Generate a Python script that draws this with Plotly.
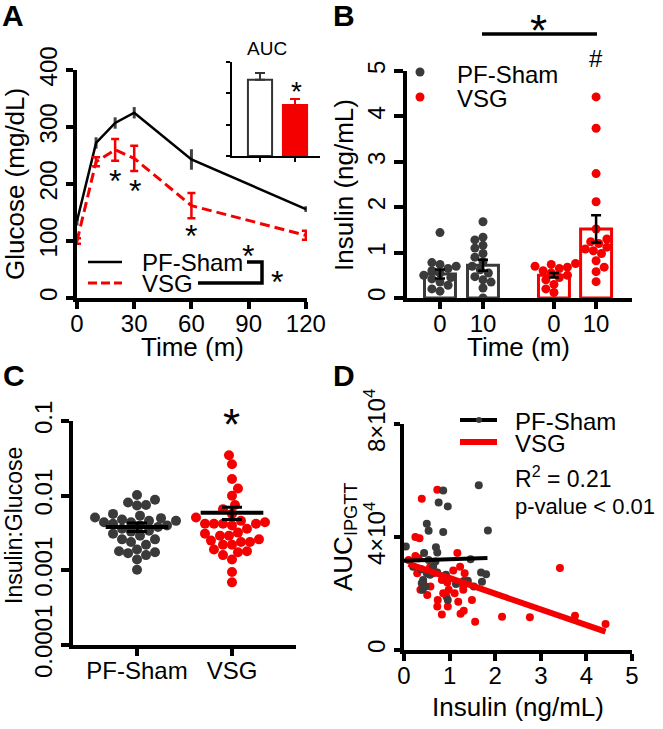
import numpy as np
import plotly.graph_objects as go

W, H = 663, 729
FONT = "Liberation Sans, Arial, sans-serif"
RED = "#f50000"
GRAY = "#3a3a3a"
DGRAY = "#444444"


def fx(p):
    return p / W


def fy(p):
    return 1 - p / H


# ---------------- DATA ----------------
# Panel A: IPGTT
time_min = [0, 10, 20, 30, 60, 120]
sham_glucose = [135, 272, 307, 325, 243, 156]
sham_glucose_sem = [8, 10, 10, 10, 18, 5]
vsg_glucose = [100, 239, 260, 245, 162, 110]
vsg_glucose_sem = [5, 8, 19, 22, 22, 8]
auc_groups = ["PF-Sham", "VSG"]
auc_values = [2.43, 1.63]
auc_sem = [0.22, 0.19]

# Panel B: insulin at 0 and 10 min
b_tick_labels = ["0", "10", "0", "10"]
b_bar_means = [0.53, 0.72, 0.50, 1.52]
b_bar_sem = [0.10, 0.12, 0.05, 0.30]
ins_sham_0 = [1.44, 0.78, 0.74, 0.70, 0.65, 0.60, 0.55, 0.50, 0.45, 0.42, 0.35, 0.28, 0.20, 0.15]
ins_sham_10 = [1.68, 1.34, 1.28, 1.16, 1.10, 0.98, 0.90, 0.80, 0.70, 0.62, 0.55, 0.47, 0.40, 0.35, 0.22, 0.0]
ins_vsg_0 = [0.76, 0.74, 0.70, 0.68, 0.65, 0.60, 0.55, 0.50, 0.45, 0.40, 0.30, 0.20, 0.12]
ins_vsg_10 = [4.43, 3.74, 2.74, 2.12, 1.52, 1.30, 1.24, 1.20, 1.12, 1.08, 1.04, 0.98, 0.82, 0.68, 0.58, 0.36]

# Panel C: insulin:glucose ratio
c_groups = ["PF-Sham", "VSG"]
ratio_sham = [0.0102, 0.0088, 0.0081, 0.0075, 0.0074, 0.0057, 0.0054, 0.0051, 0.0050, 0.0048,
              0.0046, 0.0046, 0.0044, 0.0044, 0.0042, 0.0040, 0.0040, 0.0038, 0.0036, 0.0034,
              0.0033, 0.0031, 0.0029, 0.0026, 0.0026, 0.0024, 0.0022, 0.0019, 0.0018, 0.00175,
              0.0017, 0.0016, 0.0014, 0.00102]
ratio_vsg = [0.0348, 0.0264, 0.0167, 0.0125, 0.0100, 0.0075, 0.0066, 0.0057, 0.0051, 0.0046,
             0.0044, 0.0042, 0.0042, 0.0042, 0.0042, 0.0040, 0.0036, 0.0032, 0.0031, 0.0029,
             0.0029, 0.0026, 0.0025, 0.0024, 0.0024, 0.0022, 0.0022, 0.0019, 0.0018, 0.00175,
             0.0016, 0.0014, 0.00095, 0.00069]
ratio_means = [0.0038, 0.0059]
ratio_upper = [0.0043, 0.0070]
ratio_lower = [0.0033, 0.0048]

# Panel D: AUC vs insulin
d_sham_x = [1.64, 0.86, 0.76, 0.96, 0.50, 0.54, 0.86, 1.84, 0.04, 0.70, 0.44, 0.73, 0.20, 0.38,
            0.54, 0.69, 1.46, 0.50, 0.57, 0.73, 0.92, 0.42, 0.39, 0.47, 1.14, 1.31, 1.40, 1.71,
            1.80, 1.69, 1.53, 0.96, 0.41, 0.64]
d_sham_y = [5.83, 5.65, 5.22, 5.08, 4.47, 4.22, 4.18, 4.23, 3.66, 3.64, 3.43, 3.45, 2.95, 2.86,
            3.19, 3.13, 3.21, 2.72, 2.66, 2.74, 2.66, 2.48, 2.36, 2.25, 2.34, 2.44, 2.45, 2.42,
            2.68, 2.74, 2.25, 1.77, 2.13, 2.95]
d_vsg_x = [0.39, 0.73, 0.25, 0.34, 0.25, 0.10, 0.32, 1.17, 3.42, 0.57, 0.64, 1.08, 1.23, 1.33,
           0.29, 0.36, 0.51, 0.58, 0.83, 0.95, 0.98, 1.11, 1.30, 1.49, 0.74, 0.73, 0.83, 0.96,
           1.24, 1.31, 1.56, 2.15, 2.76, 3.75, 4.42, 1.30, 0.93, 1.19, 0.42, 0.86]
d_vsg_y = [5.35, 5.67, 4.00, 3.96, 3.33, 3.19, 3.25, 3.43, 2.90, 2.93, 2.72, 2.81, 2.95, 2.72,
           2.72, 2.13, 1.95, 2.25, 2.48, 2.39, 2.13, 2.01, 2.13, 1.77, 1.77, 1.54, 1.26, 1.54,
           1.28, 1.39, 1.00, 1.18, 1.16, 1.21, 0.92, 2.25, 1.89, 1.71, 2.42, 2.01]
d_sham_fit_x = [0.0, 1.83]
d_sham_fit_y = [3.16, 3.26]
d_vsg_fit_x = [0.10, 4.42]
d_vsg_fit_y = [3.05, 0.65]
d_yticks = [0, 4, 8]
d_yticklabels = ["0", "4×10<sup>4</sup>", "8×10<sup>4</sup>"]


def beeswarm(values, y_scale, x_scale, diam, log=False):
    v = np.log10(np.asarray(values, float)) if log else np.asarray(values, float)
    ypx = v * y_scale
    order = np.argsort(ypx)
    placed = []
    offs = np.zeros(len(v))
    step = diam * 0.3
    flip = 1
    for i in order:
        k = 0
        found = None
        while found is None:
            cands = [0.0] if k == 0 else [flip * k * step, -flip * k * step]
            for c in cands:
                if all((c - a) ** 2 + (ypx[i] - b) ** 2 >= (diam * 0.9) ** 2 for a, b in placed):
                    found = c
                    break
            k += 1
        flip = -flip
        placed.append((found, ypx[i]))
        offs[i] = found / x_scale
    return offs


fig = go.Figure()

# ---------------- Panel A ----------------
fig.add_trace(go.Scatter(
    x=time_min, y=sham_glucose, mode="lines", line=dict(color="black", width=2.5),
    error_y=dict(type="data", array=sham_glucose_sem, color=DGRAY, thickness=3, width=0),
    xaxis="x", yaxis="y", showlegend=False))
fig.add_trace(go.Scatter(
    x=time_min, y=vsg_glucose, mode="lines", line=dict(color=RED, width=3, dash="10px,5px"),
    error_y=dict(type="data", array=vsg_glucose_sem, color=RED, thickness=2.5, width=4),
    xaxis="x", yaxis="y", showlegend=False))

# inset AUC
fig.add_trace(go.Bar(
    x=[1], y=[auc_values[0]], width=0.69, marker=dict(color="white", line=dict(color="#333333", width=2)),
    error_y=dict(type="data", array=[auc_sem[0]], arrayminus=[0], symmetric=False, color="#333333",
                 thickness=2, width=5),
    xaxis="x2", yaxis="y2", showlegend=False))
fig.add_trace(go.Bar(
    x=[2], y=[auc_values[1]], width=0.69, marker=dict(color=RED, line=dict(color=RED, width=2)),
    error_y=dict(type="data", array=[auc_sem[1]], arrayminus=[0], symmetric=False, color=RED,
                 thickness=2, width=5),
    xaxis="x2", yaxis="y2", showlegend=False))

# ---------------- Panel B ----------------
b_pos = [1, 2, 3.65, 4.63]
b_groups = [ins_sham_0, ins_sham_10, ins_vsg_0, ins_vsg_10]
b_colors = [GRAY, GRAY, RED, RED]
fig.add_trace(go.Bar(
    x=b_pos, y=b_bar_means, width=0.72,
    marker=dict(color="white", line=dict(color=b_colors, width=3)),
    xaxis="x3", yaxis="y3", showlegend=False))
for pos, vals, col in zip(b_pos, b_groups, b_colors):
    offs = beeswarm(vals, 45.4, 43.0, 9)
    fig.add_trace(go.Scatter(
        x=pos + offs, y=vals, mode="markers", marker=dict(color=col, size=9),
        xaxis="x3", yaxis="y3", showlegend=False))
fig.add_trace(go.Scatter(
    x=b_pos, y=b_bar_means, mode="markers", marker=dict(size=0.1, color="rgba(0,0,0,0)"),
    error_y=dict(type="data", array=b_bar_sem, color="black", thickness=2.5, width=5),
    xaxis="x3", yaxis="y3", showlegend=False))

# ---------------- Panel C ----------------
c_pos = [1, 2]
for pos, vals, col in zip(c_pos, [ratio_sham, ratio_vsg], [GRAY, RED]):
    offs = beeswarm(vals, 74.7, 95.0, 10, log=True)
    fig.add_trace(go.Scatter(
        x=pos + offs, y=vals, mode="markers", marker=dict(color=col, size=10),
        xaxis="x4", yaxis="y4", showlegend=False))
for pos, m in zip(c_pos, ratio_means):
    fig.add_trace(go.Scatter(
        x=[pos - 0.33, pos + 0.33], y=[m, m], mode="lines", line=dict(color="black", width=4),
        xaxis="x4", yaxis="y4", showlegend=False))
fig.add_trace(go.Scatter(
    x=c_pos, y=ratio_means, mode="markers", marker=dict(size=0.1, color="rgba(0,0,0,0)"),
    error_y=dict(type="data", symmetric=False,
                 array=[u - m for u, m in zip(ratio_upper, ratio_means)],
                 arrayminus=[m - l for m, l in zip(ratio_means, ratio_lower)],
                 color="black", thickness=3, width=10),
    xaxis="x4", yaxis="y4", showlegend=False))

# ---------------- Panel D ----------------
fig.add_trace(go.Scatter(
    x=d_vsg_x, y=[v * 1e4 for v in d_vsg_y], mode="markers", marker=dict(color=RED, size=8),
    xaxis="x5", yaxis="y5", showlegend=False))
fig.add_trace(go.Scatter(
    x=d_sham_x, y=[v * 1e4 for v in d_sham_y], mode="markers", marker=dict(color=GRAY, size=8),
    xaxis="x5", yaxis="y5", showlegend=False))
fig.add_trace(go.Scatter(
    x=d_vsg_fit_x, y=[v * 1e4 for v in d_vsg_fit_y], mode="lines", line=dict(color=RED, width=6),
    xaxis="x5", yaxis="y5", showlegend=False))
fig.add_trace(go.Scatter(
    x=d_sham_fit_x, y=[v * 1e4 for v in d_sham_fit_y], mode="lines", line=dict(color="black", width=4),
    xaxis="x5", yaxis="y5", showlegend=False))

# ---------------- Axes ----------------
TICKFONT = dict(family=FONT, size=24, color="black")


def ax(**kw):
    d = dict(showline=True, linecolor="black", linewidth=3.5, ticks="outside", ticklen=7,
             tickwidth=3.5, tickcolor="black", showgrid=False, zeroline=False, automargin=False,
             tickfont=TICKFONT, fixedrange=True)
    d.update(kw)
    return d


XSO = -6  # pull x tick labels toward axis

layout = dict(
    template="none",
    width=W, height=H, margin=dict(l=0, r=0, t=0, b=0, pad=0, autoexpand=False),
    paper_bgcolor="white", plot_bgcolor="rgba(0,0,0,0)", showlegend=False,
    barmode="overlay", font=dict(family=FONT, color="black"),
    xaxis=ax(domain=[fx(77), fx(307)], range=[0, 120.6], tickvals=[0, 30, 60, 90, 120], anchor="y",
             ticklabelstandoff=XSO),
    yaxis=ax(domain=[fy(298), fy(70)], range=[0, 400], tickvals=[0, 100, 200, 300, 400],
             tickangle=-90, anchor="x"),
    xaxis2=ax(domain=[fx(232), fx(320)], range=[0.2, 2.714], tickvals=[1, 2], showticklabels=False,
              ticklen=4, linewidth=2, tickwidth=2, anchor="y2"),
    yaxis2=ax(domain=[fy(156), fy(62)], range=[0, 3], tickvals=[0, 1, 2, 3], showticklabels=False,
              ticklen=4, linewidth=2, tickwidth=2, anchor="x2"),
    xaxis3=ax(domain=[fx(407), fx(632)], range=[0.233, 5.465], tickvals=b_pos, ticktext=b_tick_labels,
              anchor="y3", ticklabelstandoff=XSO),
    yaxis3=ax(domain=[fy(298), fy(71)], range=[0, 5], tickvals=[0, 1, 2, 3, 4, 5], tickangle=-90,
              ticklen=9, anchor="x3"),
    xaxis4=ax(domain=[fx(73), fx(296)], range=[0.326, 2.674], tickvals=c_pos, ticktext=c_groups,
              anchor="y4", ticklabelstandoff=XSO),
    yaxis4=ax(domain=[fy(645), fy(421)], type="log", range=[-4, -1],
              tickvals=[0.0001, 0.001, 0.01, 0.1], ticktext=["0.0001", "0.001", "0.01", "0.1"],
              tickangle=-90, ticklen=8, anchor="x4"),
    xaxis5=ax(domain=[fx(404), fx(632)], range=[0, 5], tickvals=[0, 1, 2, 3, 4, 5], anchor="y5",
              ticklabelstandoff=XSO),
    yaxis5=ax(domain=[fy(650), fy(424)], range=[0, 8e4], tickvals=[v * 1e4 for v in d_yticks],
              ticktext=d_yticklabels, tickangle=-90, ticklen=6, anchor="x5"),
)

ann = []
shapes = []


def text(x, y, s, size=23, xanchor="center", angle=0, bold=False):
    ann.append(dict(x=fx(x), y=fy(y), xref="paper", yref="paper", text=("<b>%s</b>" % s) if bold else s,
                    showarrow=False, xanchor=xanchor, yanchor="middle", textangle=angle,
                    font=dict(family=FONT, size=size, color="black")))


def star(x, y, size):
    text(x, y + 0.27 * size, "*", size=size)


def line(x0, y0, x1, y1, color="black", width=3.5, dash=None):
    shapes.append(dict(type="line", xref="paper", yref="paper", x0=fx(x0), y0=fy(y0), x1=fx(x1),
                       y1=fy(y1), line=dict(color=color, width=width, dash=dash)))


# panel letters
text(13, 15, "A", 30, bold=True)
text(344, 15, "B", 30, bold=True)
text(14, 376, "C", 30, bold=True)
text(344, 376, "D", 30, bold=True)

# Panel A texts
text(15, 184, "Glucose (mg/dL)", 26, angle=-90)
text(192, 347, "Time (m)", 26)
text(267, 48, "AUC", 19)
star(296, 84, 28)
star(115, 172, 32)
star(135, 182, 32)
star(191, 227, 32)
line(88, 262, 122, 262, "black", 2.5)
line(88, 283, 122, 283, RED, 3, "9px,4px")
text(140, 262, "PF-Sham", 24, xanchor="left")
text(140, 284, "VSG", 24, xanchor="left")
shapes.append(dict(type="path", xref="paper", yref="paper",
                   path="M %f %f L %f %f L %f %f L %f %f" % (fx(247), fy(262), fx(262), fy(262),
                                                            fx(262), fy(283), fx(198), fy(283)),
                   line=dict(color="black", width=3.5)))
star(248, 247, 32)
star(277, 273, 32)

# Panel B texts
text(344, 185, "Insulin (ng/mL)", 26, angle=-90)
text(518, 347, "Time (m)", 26)
shapes.append(dict(type="circle", xref="paper", yref="paper", x0=fx(415.5), x1=fx(424.5),
                   y0=fy(67.5), y1=fy(76.5), fillcolor=GRAY, line=dict(width=0)))
shapes.append(dict(type="circle", xref="paper", yref="paper", x0=fx(415.5), x1=fx(424.5),
                   y0=fy(92.5), y1=fy(101.5), fillcolor=RED, line=dict(width=0)))
text(455, 75, "PF-Sham", 24, xanchor="left")
text(455, 99, "VSG", 24, xanchor="left")
line(482, 34, 597, 34, "black", 3.5)
star(538, 19, 44)
text(596, 58, "#", 24)

# Panel C texts
text(14, 526, "Insulin:Glucose", 23, angle=-90)
star(232, 413, 44)

# Panel D texts
text(344, 537, "AUC<sub>IPGTT</sub>", 26, angle=-90)
text(518, 707, "Insulin (ng/mL)", 26)
line(460, 420, 497, 420, "black", 4)
shapes.append(dict(type="circle", xref="paper", yref="paper", x0=fx(476), x1=fx(482),
                   y0=fy(417), y1=fy(423), fillcolor=GRAY, line=dict(width=0)))
line(460, 442, 497, 442, RED, 6)
text(513, 421, "PF-Sham", 24, xanchor="left")
text(513, 443, "VSG", 24, xanchor="left")
text(513, 477, "R<sup>2</sup> = 0.21", 23, xanchor="left")
text(513, 506, "p-value < 0.01", 22, xanchor="left")

layout["annotations"] = ann
layout["shapes"] = shapes
fig.update_layout(**layout)
fig.write_html("out.html", config={"displayModeBar": False},
               post_script="document.body.style.margin='0px';")
